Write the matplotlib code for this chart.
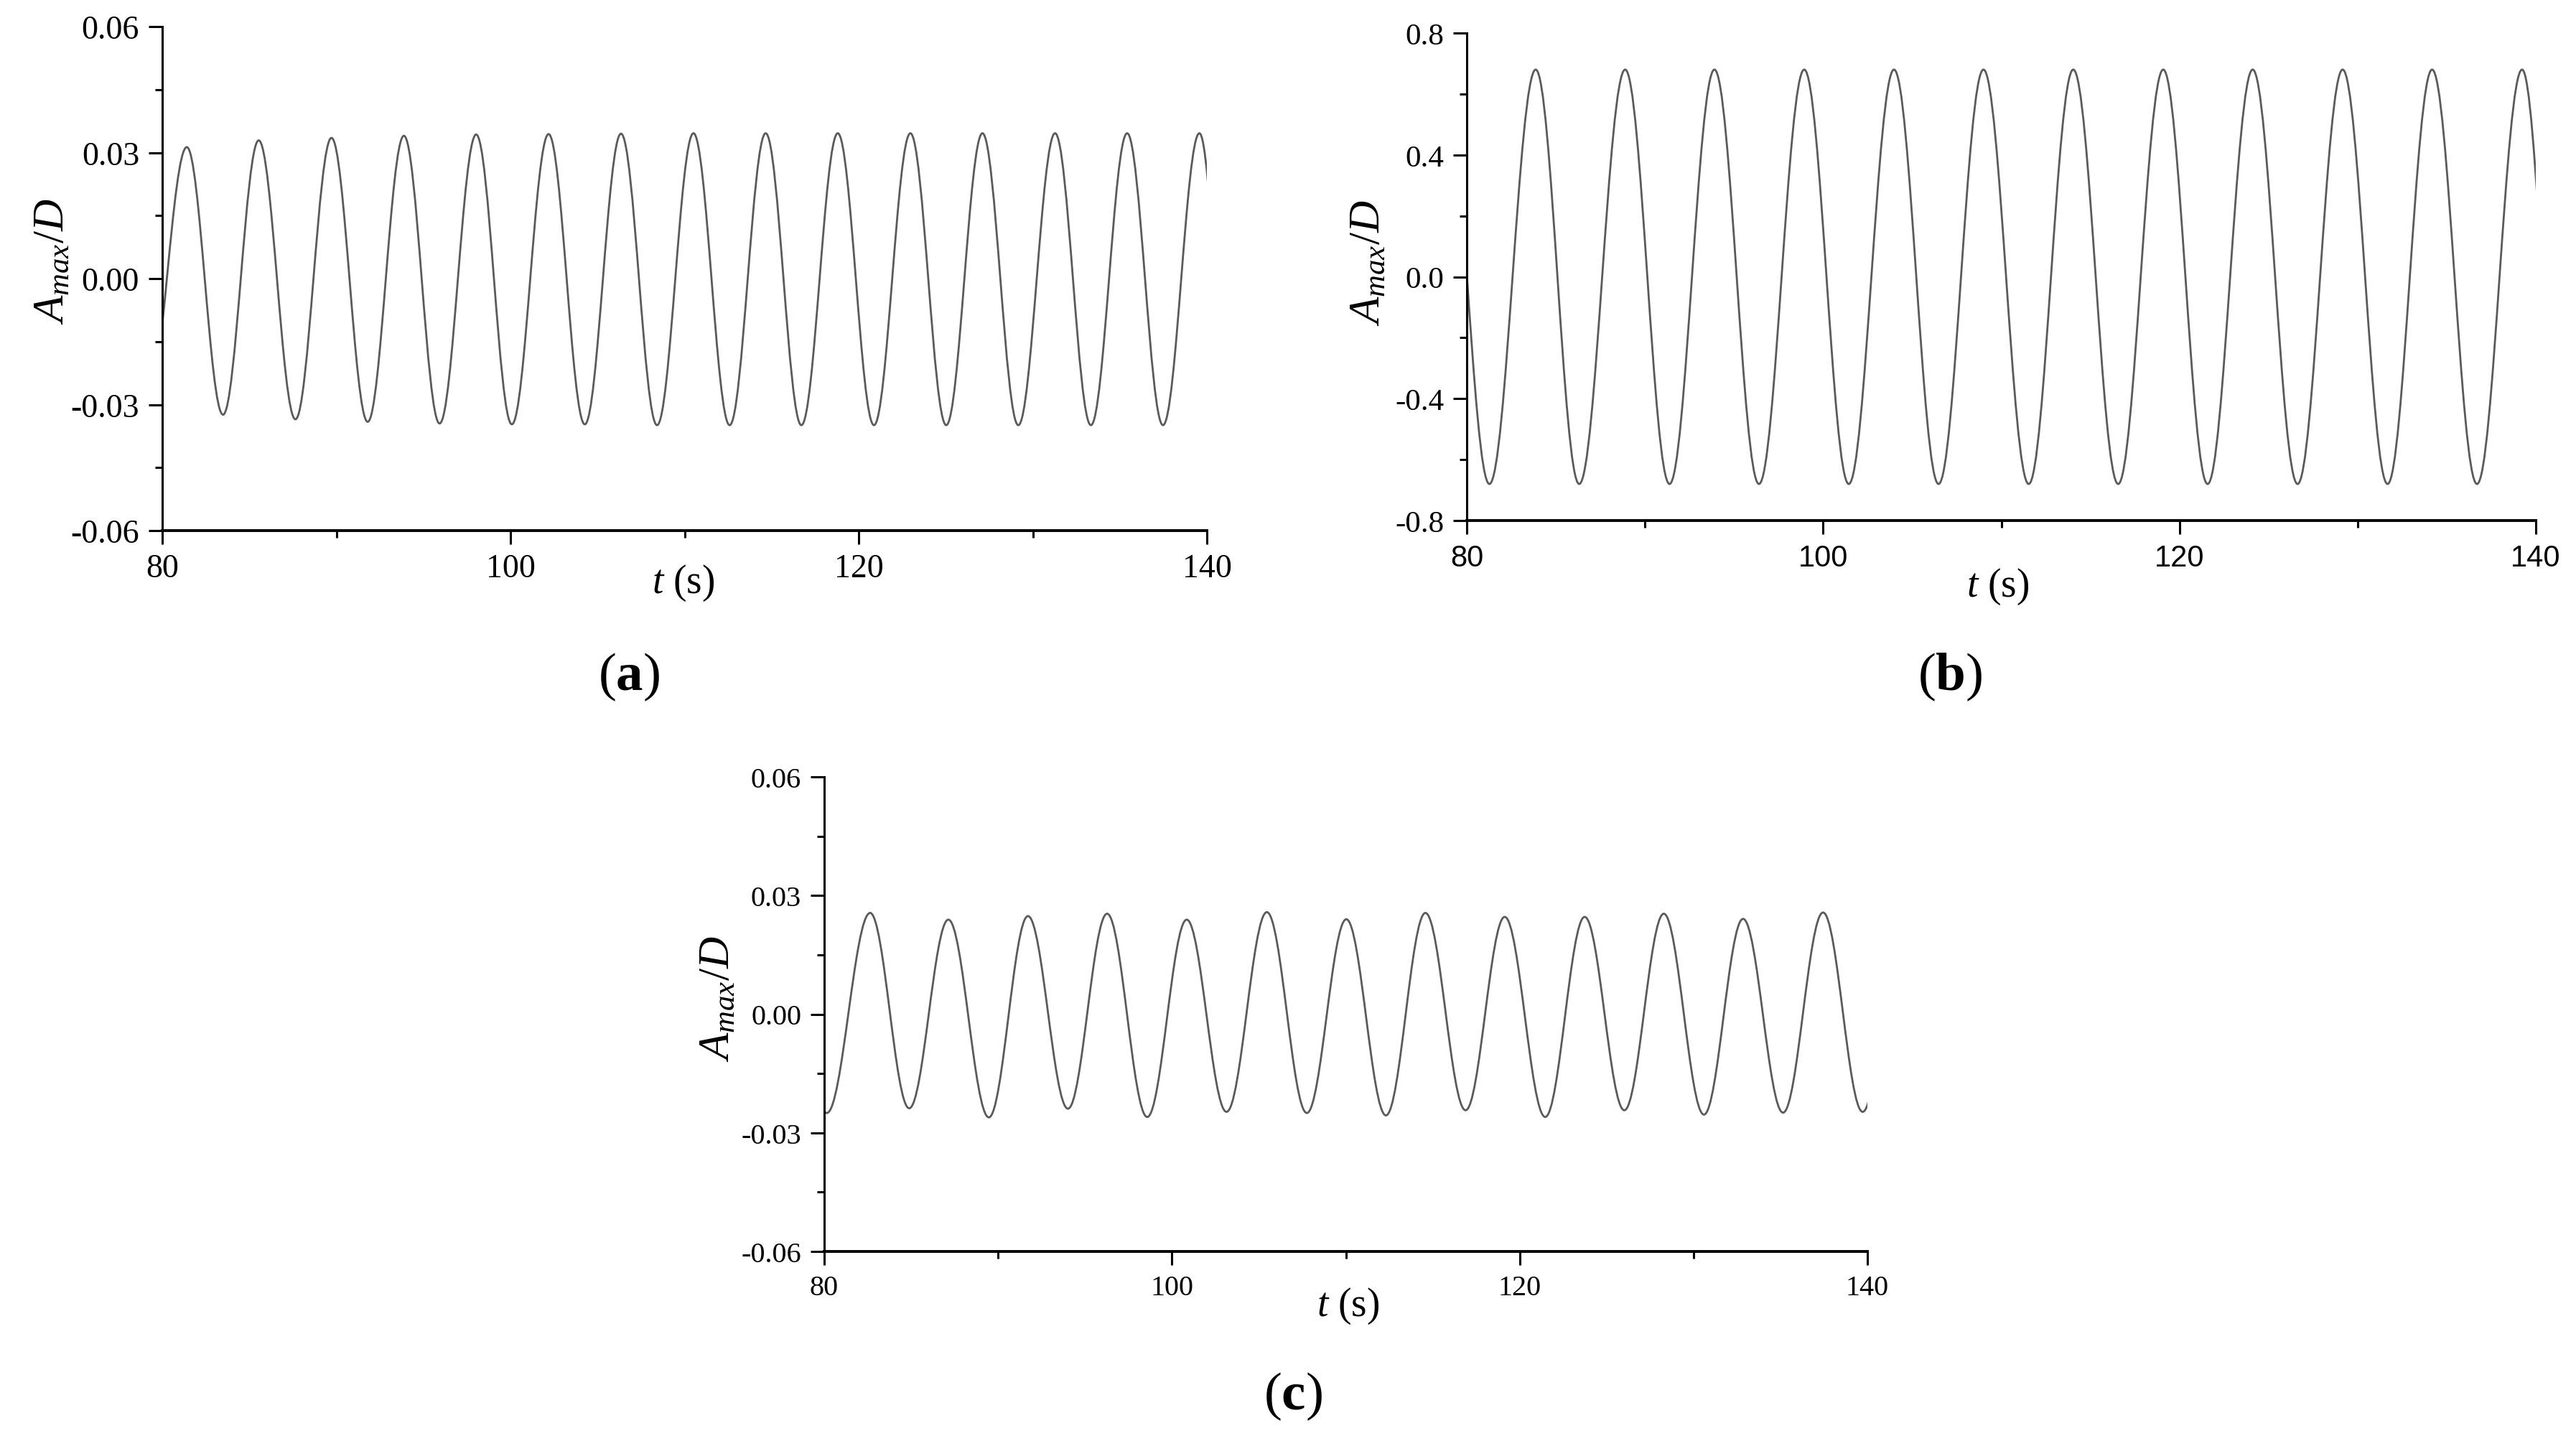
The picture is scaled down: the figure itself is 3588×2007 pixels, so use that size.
import numpy as np
import matplotlib
matplotlib.use("Agg")
import matplotlib.pyplot as plt
from matplotlib.path import Path
from matplotlib.patches import PathPatch
from matplotlib.ticker import MultipleLocator

# DATA (times and values of successive peaks/troughs,
# first and last entries are the extrema just outside the 80-140 s window)

t_a = [79.15, 81.41, 83.49, 85.54, 87.65, 89.72, 91.80, 93.88, 95.93, 98.03,
       100.08, 102.19, 104.27, 106.35, 108.42, 110.51, 112.59, 114.66, 116.71,
       118.80, 120.88, 122.97, 125.03, 127.11, 129.17, 131.28, 133.34, 135.42,
       137.48, 139.57, 141.40]
v_a = [-0.0300, 0.0313, -0.0324, 0.0329, -0.0335, 0.0335, -0.0341, 0.0340,
       -0.0345, 0.0343, -0.0347, 0.0344, -0.0347, 0.0345, -0.0349, 0.0346,
       -0.0349, 0.0346, -0.0349, 0.0346, -0.0349, 0.0346, -0.0349, 0.0346,
       -0.0349, 0.0346, -0.0349, 0.0346, -0.0349, 0.0346, -0.0349]

t_b = [78.75, 81.27, 83.87, 86.31, 88.89, 91.38, 93.90, 96.40, 98.94, 101.44,
       103.98, 106.48, 109.00, 111.54, 114.04, 116.56, 119.09, 121.58, 124.11,
       126.63, 129.16, 131.68, 134.18, 136.70, 139.23, 141.50]
v_b = [0.68, -0.68, 0.68, -0.68, 0.68, -0.68, 0.68, -0.68, 0.68, -0.68,
       0.68, -0.68, 0.68, -0.68, 0.68, -0.68, 0.68, -0.68, 0.68, -0.68,
       0.68, -0.68, 0.68, -0.68, 0.68, -0.68]

t_c = [77.90, 80.15, 82.64, 84.89, 87.14, 89.47, 91.72, 94.02, 96.27, 98.58,
       100.85, 103.14, 105.46, 107.76, 110.03, 112.31, 114.58, 116.89, 119.14,
       121.47, 123.74, 126.02, 128.29, 130.60, 132.85, 135.15, 137.45, 139.73,
       142.00]
v_c = [0.0250, -0.0250, 0.0256, -0.0238, 0.0239, -0.0261, 0.0248, -0.0239,
       0.0254, -0.0260, 0.0239, -0.0247, 0.0258, -0.0250, 0.0240, -0.0256,
       0.0256, -0.0243, 0.0246, -0.0260, 0.0246, -0.0243, 0.0254, -0.0254,
       0.0241, -0.0249, 0.0257, -0.0247, 0.0250]

x_ticks = [80, 100, 120, 140]
x_ticklabels = ["80", "100", "120", "140"]
y_ticks_small = [-0.06, -0.03, 0.0, 0.03, 0.06]
y_ticklabels_small = ["-0.06", "-0.03", "0.00", "0.03", "0.06"]
y_ticks_big = [-0.8, -0.4, 0.0, 0.4, 0.8]
y_ticklabels_big = ["-0.8", "-0.4", "0.0", "0.4", "0.8"]

# FONTS

plt.rcParams["font.family"] = "Liberation Serif"
plt.rcParams["mathtext.fontset"] = "custom"
plt.rcParams["mathtext.rm"] = "Liberation Serif"
plt.rcParams["mathtext.it"] = "Liberation Serif:italic"
plt.rcParams["mathtext.bf"] = "Liberation Serif:bold"

W, H = 3588, 2008
fig = plt.figure(figsize=(W / 200, H / 200), dpi=200)


def wave_path(t_ext, v_ext, k=0.3634):
    # bezier S-curves between successive extrema (flat tangent at each extremum)
    verts = [(t_ext[0], v_ext[0])]
    codes = [Path.MOVETO]
    for i in range(len(t_ext) - 1):
        h = t_ext[i + 1] - t_ext[i]
        verts += [(t_ext[i] + k * h, v_ext[i]),
                  (t_ext[i + 1] - k * h, v_ext[i + 1]),
                  (t_ext[i + 1], v_ext[i + 1])]
        codes += [Path.CURVE4] * 3
    return Path(verts, codes)


def panel(rect, t_ext, v_ext, yticks, ylabels, ylim, yminor, fs, xfont, xfs):
    ax = fig.add_axes(rect)
    ax.add_patch(PathPatch(wave_path(t_ext, v_ext), fill=False,
                           edgecolor="#5a5a5a", lw=1.0))
    ax.set_xlim(80, 140)
    ax.set_ylim(*ylim)
    ax.set_xticks(x_ticks)
    ax.set_xticklabels(x_ticklabels, fontsize=xfs, family=xfont)
    ax.set_yticks(yticks)
    ax.set_yticklabels(ylabels, fontsize=fs)
    ax.xaxis.set_minor_locator(MultipleLocator(10))
    ax.yaxis.set_minor_locator(MultipleLocator(yminor))
    ax.spines["top"].set_visible(False)
    ax.spines["right"].set_visible(False)
    ax.spines["left"].set_linewidth(1.1)
    ax.spines["bottom"].set_linewidth(1.4)
    ax.tick_params(which="major", direction="out", length=7, width=1.1, pad=4.5)
    ax.tick_params(which="minor", direction="out", length=3.5, width=1.1)
    return ax


def ftext(x, y, s, **kw):
    fig.text(x / W, 1 - y / H, s, ha="center", va="center", **kw)


# PANELS

panel([226 / W, 1 - 740 / H, 1455 / W, 702 / H], t_a, v_a,
      y_ticks_small, y_ticklabels_small, (-0.06, 0.06), 0.015, 16.5,
      "Liberation Serif", 16.5)
panel([2043 / W, 1 - 726 / H, 1489 / W, 679 / H], t_b, v_b,
      y_ticks_big, y_ticklabels_big, (-0.8, 0.8), 0.2, 15.5,
      "Liberation Sans", 15)
panel([1148 / W, 1 - 1744 / H, 1453 / W, 661 / H], t_c, v_c,
      y_ticks_small, y_ticklabels_small, (-0.06, 0.06), 0.015, 14.5,
      "Liberation Serif", 14.5)

# LABELS

ylab = r"$A_{max}/D$"
xlab = r"$t$ (s)"

ftext(73, 364, ylab, fontsize=22, rotation=90)
ftext(952, 812, xlab, fontsize=20)
ftext(876, 943, r"($\mathbf{a}$)", fontsize=27)

ftext(1906, 366, ylab, fontsize=22, rotation=90)
ftext(2783, 817, xlab, fontsize=20)
ftext(2716, 943, r"($\mathbf{b}$)", fontsize=27)

ftext(1000, 1391, ylab, fontsize=22, rotation=90)
ftext(1878, 1819, xlab, fontsize=20)
ftext(1801, 1945, r"($\mathbf{c}$)", fontsize=27)

fig.savefig("out.png", dpi=200)
